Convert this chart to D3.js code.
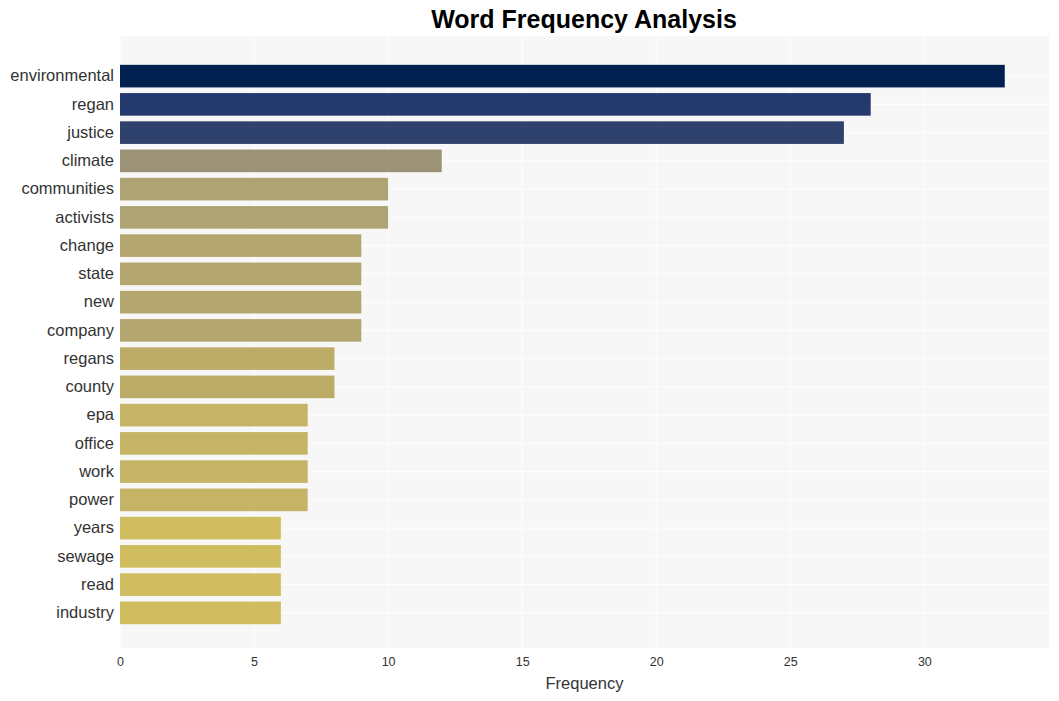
<!DOCTYPE html>
<html>
<head>
<meta charset="utf-8">
<script src="https://cdn.jsdelivr.net/npm/d3@7"></script>
<style>
  body { margin: 0; background: #fff; }
  svg { display: block; font-family: "Liberation Sans", Arial, sans-serif; }
</style>
</head>
<body>
<svg id="chart" width="1059" height="701"></svg>
<script>
const words = ["environmental","regan","justice","climate","communities","activists","change","state","new","company","regans","county","epa","office","work","power","years","sewage","read","industry"];
const counts = [33,28,27,12,10,10,9,9,9,9,8,8,7,7,7,7,6,6,6,6];
const xTicks = [0,5,10,15,20,25,30];
const colorStops = [6,7,8,9,10,12,27,28,33];
const colorValues = ["#cfbd5f","#c5b366","#bdac68","#b3a66e","#ada373","#9c9276","#2f416d","#243a6f","#00214f"];

const svg = d3.select("#chart");
const panel = {left: 120, right: 1049, top: 36, bottom: 648};

const x = d3.scaleLinear().domain([0, 33 * 1.05]).range([panel.left, panel.right]);
const y = d3.scaleBand().domain(words).range([62, 627]).paddingInner(0.2).paddingOuter(0.1);
const color = d3.scaleLinear().domain(colorStops).range(colorValues);

svg.append("rect")
  .attr("x", panel.left).attr("y", panel.top)
  .attr("width", panel.right - panel.left).attr("height", panel.bottom - panel.top)
  .attr("fill", "#f7f7f7");

// vertical gridlines
svg.append("g").selectAll("line").data(xTicks).join("line")
  .attr("x1", d => x(d)).attr("x2", d => x(d))
  .attr("y1", panel.top).attr("y2", panel.bottom)
  .attr("stroke", "#ffffff").attr("stroke-width", 1);
// horizontal gridlines
svg.append("g").selectAll("line").data(words).join("line")
  .attr("x1", panel.left).attr("x2", panel.right)
  .attr("y1", d => y(d) + y.bandwidth() / 2).attr("y2", d => y(d) + y.bandwidth() / 2)
  .attr("stroke", "#ffffff").attr("stroke-width", 1);

svg.append("g").selectAll("rect").data(words).join("rect")
  .attr("x", x(0))
  .attr("y", d => y(d))
  .attr("width", (d, i) => x(counts[i]) - x(0))
  .attr("height", y.bandwidth())
  .attr("fill", (d, i) => color(counts[i]));

const xAxis = svg.append("g")
  .attr("transform", `translate(0,${panel.bottom})`)
  .call(d3.axisBottom(x).tickValues(xTicks).tickSize(0).tickPadding(9));
xAxis.select(".domain").remove();
xAxis.selectAll("text").attr("font-size", 12.5).attr("fill", "#333").attr("font-family", "Liberation Sans, Arial, sans-serif");

const yAxis = svg.append("g")
  .attr("transform", `translate(${panel.left},0)`)
  .call(d3.axisLeft(y).tickSize(0).tickPadding(6));
yAxis.select(".domain").remove();
yAxis.selectAll("text").attr("font-size", 16.5).attr("fill", "#333").attr("font-family", "Liberation Sans, Arial, sans-serif");

svg.append("text")
  .attr("x", (panel.left + panel.right) / 2).attr("y", 689)
  .attr("text-anchor", "middle").attr("font-size", 16.5).attr("fill", "#333")
  .text("Frequency");

svg.append("text")
  .attr("x", 584).attr("y", 28)
  .attr("text-anchor", "middle").attr("font-size", 25).attr("font-weight", "bold").attr("fill", "#000")
  .text("Word Frequency Analysis");
</script>
</body>
</html>
